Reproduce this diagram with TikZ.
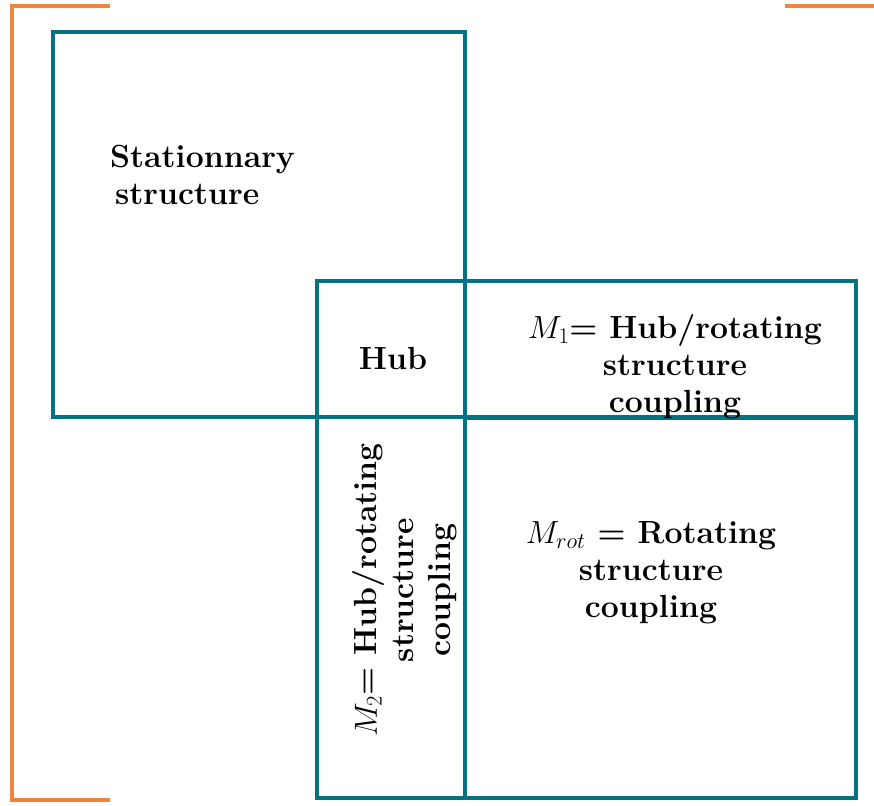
\RequirePackage{fix-cm}
\documentclass[tikz,border=0pt]{standalone}
\usepackage{amsmath}
\definecolor{blockteal}{RGB}{4,114,128}
\definecolor{bracketorange}{RGB}{240,133,62}
\begin{document}
\begin{tikzpicture}[x=1pt,y=-1pt,
  block/.style={draw=blockteal, line width=3.6pt, inner sep=0pt, outer sep=0pt, anchor=north west},
  lbl/.style={font=\fontsize{32}{37}\selectfont\bfseries, align=center, inner sep=0pt},
  brk/.style={draw=bracketorange, line width=3.4pt}]
\useasboundingbox (0,0) rectangle (874,805);

% matrix blocks
\node[block, minimum width=412pt, minimum height=385pt] (stat) at (53,32) {};
\node[block, minimum width=148pt, minimum height=136pt] (hub) at (317,281) {};
\node[block, minimum width=391pt, minimum height=136pt] (m1) at (465,281) {};
\node[block, minimum width=148pt, minimum height=381pt] (m2) at (317,417) {};
\node[block, minimum width=391pt, minimum height=380pt] (mrot) at (465,418) {};

% block labels
\node[lbl, align=left, anchor=west] (statlbl) at (110,175) {Stationnary\\ \hspace*{5pt}structure};
\node[lbl] (hublbl) at (393,358) {Hub};
\node[lbl] (m1lbl) at (675,367) {$M_1$= Hub/rotating\\ structure\\ coupling};
\node[lbl] (mrotlbl) at (651,573) {$M_{rot}$ = Rotating\\ structure\\ coupling};
\node[lbl, rotate=90] (m2lbl) at (405,590) {$M_2$= Hub/rotating\\ structure\\ coupling};

% bracket
\coordinate (bl1) at (110,6);
\coordinate (bl2) at (12,6);
\coordinate (bl3) at (12,800);
\coordinate (bl4) at (110,800);
\draw[brk] (bl1) -- (bl2) -- (bl3) -- (bl4);
\coordinate (br1) at (785,6);
\coordinate (br2) at (876,6);
\draw[brk] (br1) -- (br2);
\end{tikzpicture}
\end{document}
